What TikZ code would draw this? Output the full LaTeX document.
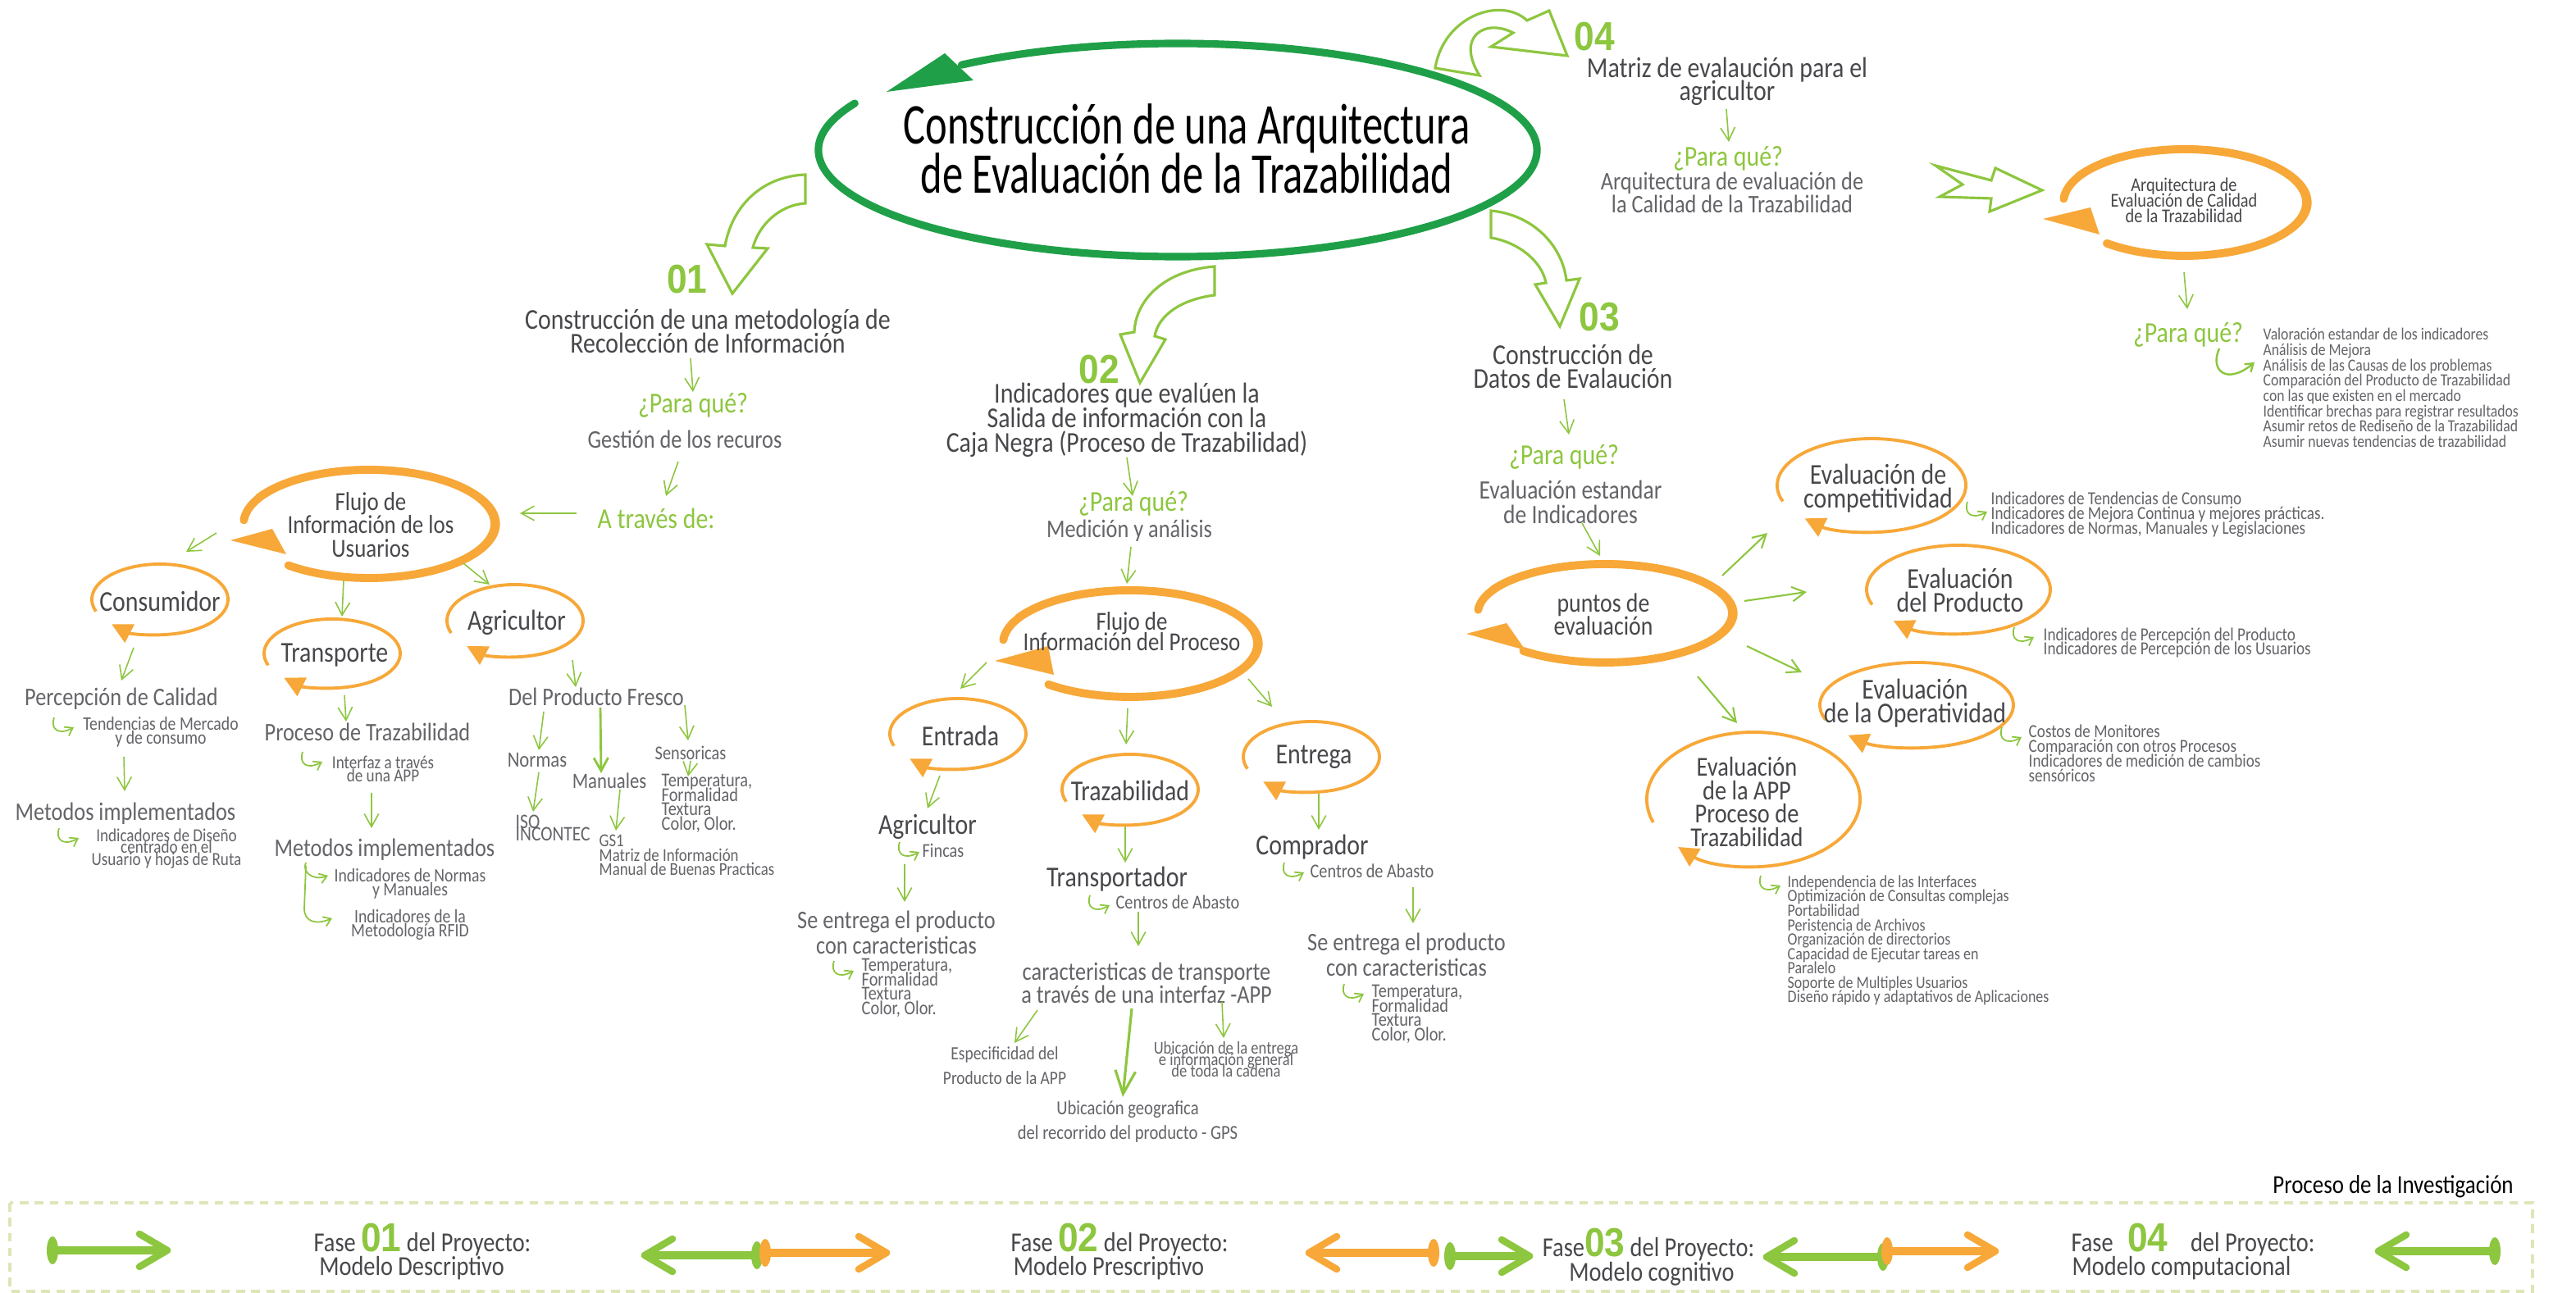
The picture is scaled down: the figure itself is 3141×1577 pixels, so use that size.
\documentclass[tikz,border=0pt]{standalone}
\usepackage{fontspec}
\setmainfont{Carlito}[FakeStretch=0.85]
\newfontfamily\titlefont{Carlito}[FakeStretch=0.72]
\newfontfamily\numfont{Liberation Sans}[FakeStretch=0.9]
\usetikzlibrary{arrows.meta,calc}
\definecolor{lgreen}{RGB}{141,198,63}
\definecolor{tgreen}{RGB}{31,160,72}
\definecolor{orng}{RGB}{247,168,56}
\definecolor{dgray}{RGB}{72,72,76}
\definecolor{mgray}{RGB}{100,100,105}
\definecolor{barcol}{RGB}{222,230,185}
\tikzset{
 txt/.style={inner sep=0pt, align=center},
 ttl/.style={txt, font=\titlefont\fontsize{20}{17}\selectfont, text=black},
 hd/.style={txt, font=\fontsize{10}{8}\selectfont, text=dgray},
 pq/.style={txt, font=\fontsize{10}{8}\selectfont, text=lgreen},
 md/.style={txt, font=\fontsize{8.8}{8}\selectfont, text=mgray},
 cl/.style={txt, font=\fontsize{10}{8.3}\selectfont, text=dgray},
 sm/.style={txt, font=\fontsize{6.6}{4.8}\selectfont, text=mgray},
 ls/.style={inner sep=0pt, align=left, anchor=west, font=\fontsize{6.4}{5.1}\selectfont, text=mgray},
 num/.style={inner sep=0pt, font=\numfont\bfseries\fontsize{14}{14}\selectfont, text=lgreen},
 ga/.style={draw=lgreen, line width=0.45pt, -{Straight Barb[length=4.5pt,width=5pt]}},
 circst/.style={draw=orng, line width=1.1pt, -{Triangle[length=7pt,width=7pt]}},
 loopst/.style={draw=orng, line width=2.8pt, line cap=round},
 loopthin/.style={draw=orng, line width=0.9pt, line cap=round},
 hollow/.style={draw=lgreen, line width=0.9pt, fill=white, line join=miter},
 hk/.style={draw=lgreen, line width=0.5pt, -{Straight Barb[length=2.5pt,width=3.5pt]}},
 hook/.pic={\draw[hk] (0,0) .. controls (-5,-15) and (6,-22) .. (24,-12);},
 fase/.style={inner sep=0pt, font=\fontsize{9.5}{9.5}\selectfont, text=dgray},
}
\newcommand\smloop[3]{\draw[circst] (#1) ++(200:{#2} and {#3}) arc[start angle=200, end angle=-135, x radius=#2, y radius=#3];}
\newcommand\bgloop[3]{%
 \pgfmathsetmacro\rxb{#2+5}\pgfmathsetmacro\ryb{#3+3}%
 \draw[loopst] (#1) ++(176:{#2} and {#3}) arc[start angle=176, end angle=-130, x radius=#2, y radius=#3];
 \draw[loopthin] (#1) ++(150:{\rxb} and {\ryb}) arc[start angle=150, end angle=-70, x radius=\rxb, y radius=\ryb];}
\newcommand\fnum[1]{{\numfont\bfseries\fontsize{14}{14}\selectfont\textcolor{lgreen}{#1}}}
\newcommand\farrow[4]{%
 \pgfmathsetmacro\fdir{(#2>#1)?1:-1}%
 \pgfmathsetmacro\fhx{#2-\fdir*34}%
 \pgfmathsetmacro\fyu{-#3+20}%
 \pgfmathsetmacro\fyd{-#3-20}%
 \draw[#4, line width=2.8pt] (#1,-#3) -- (#2,-#3);
 \fill[#4] (#1,-#3) ellipse [x radius=7, y radius=17];
 \draw[#4, line width=2.4pt, line cap=round, line join=round] (\fhx,\fyu) -- (#2,-#3) -- (\fhx,\fyd);}
\begin{document}
\lineskiplimit=-\maxdimen
\begin{tikzpicture}[x=0.01cm,y=0.01cm]
\fill[white] (0,0) rectangle (3141,-1577);
\useasboundingbox (0,0) rectangle (3141,-1577);

% ===== title =====
\coordinate (tc) at (1436,-183);
\draw[tgreen, line width=2.6pt, line cap=round] (tc) ++(154:438 and 130) arc[start angle=154, end angle=487, x radius=438, y radius=130];
\fill[tgreen] (1081,-112) -- (1152,-65) -- (1187,-98) -- cycle;
\node[ttl] (title) at (1447,-181) {Construcción de una Arquitectura\\de Evaluación de la Trazabilidad};

% ===== 04 =====
\draw[hollow] (1750,-83) .. controls (1760,-20) and (1830,5) .. (1862,-25) -- (1889,-13) -- (1911,-68) -- (1818,-57) -- (1845,-40) .. controls (1810,-22) and (1775,-45) .. (1804,-92) -- cycle;
\node[num] (n4) at (1944,-45) {04};
\node[hd] (t4) at (2106,-99) {Matriz de evalaución para el\\agricultor};
\draw[ga] (2105,-133) -- (2108,-173);
\node[pq] (p4) at (2107,-193) {¿Para qué?};
\node[md] (a4) at (2112,-235) {Arquitectura de evaluación de\\la Calidad de la Trazabilidad};

% ===== right panel =====
\draw[hollow] (2360,-202) -- (2428,-220) -- (2433,-205) -- (2490,-232) -- (2426,-258) -- (2428,-242) -- (2365,-240) -- (2393,-225) -- cycle;
\coordinate (c5) at (2664,-247);
\bgloop{c5}{148}{65}
\fill[orng] (2491,-267) -- (2549,-253) -- (2560,-286) -- cycle;
\node[txt, font=\fontsize{6.8}{5.4}\selectfont, text=dgray] (aq) at (2663,-244) {Arquitectura de\\Evaluación de Calidad\\de la Trazabilidad};
\draw[ga] (2663,-332) -- (2667,-377);
\node[pq] (p5) at (2668,-408) {¿Para qué?};
\draw[hk, line width=0.7pt] (2706,-425) .. controls (2694,-452) and (2715,-470) .. (2749,-442);
\node[ls, font=\fontsize{5.9}{5.3}\selectfont] (l5) at (2759,-473) {Valoración estandar de los indicadores\\Análisis de Mejora\\Análisis de las Causas de los problemas\\Comparación del Producto de Trazabilidad\\con las que existen en el mercado\\Identificar brechas para registrar resultados\\Asumir retos de Rediseño de la Trazabilidad\\Asumir nuevas tendencias de trazabilidad};

% ===== 01 =====
\draw[hollow] (982,-213) .. controls (930,-215) and (893,-250) .. (884,-300) -- (862,-298) -- (893,-358) -- (936,-303) -- (918,-302) .. controls (925,-275) and (950,-250) .. (982,-248) -- cycle;
\node[num] (n1) at (838,-341) {01};
\node[hd] (t1) at (863,-404) {Construcción de una metodología de\\Recolección de Información};
\draw[ga] (842,-437) -- (845,-478);
\node[pq] (p1) at (845,-494) {¿Para qué?};
\node[md] (g1) at (835,-536) {Gestión de los recuros};
\draw[ga] (827,-563) -- (812,-605);
\node[pq] (at1) at (800,-632) {A través de:};
\draw[ga] (703,-626) -- (634,-626);
\coordinate (cf1) at (450,-639);
\bgloop{cf1}{153}{66}
\fill[orng] (281,-659) -- (332,-645) -- (349,-676) -- cycle;
\node[txt, font=\fontsize{9}{8.2}\selectfont, text=dgray] (fu) at (452,-640) {Flujo de\\Información de los\\Usuarios};
\draw[ga] (264,-650) -- (227,-673);
\draw[ga] (419,-708) -- (417,-752);
\draw[ga] (565,-687) -- (597,-713);
\coordinate (cc) at (195,-731); \smloop{cc}{83}{43}
\node[cl] (cons) at (195,-733) {Consumidor};
\coordinate (ct) at (405,-797); \smloop{ct}{83}{42}
\node[cl] (trans) at (408,-799) {Transporte};
\coordinate (ca) at (628,-757); \smloop{ca}{83}{44}
\node[cl] (agr) at (630,-759) {Agricultor};

\draw[ga] (163,-790) -- (148,-830);
\node[md] (perc) at (148,-852) {Percepción de Calidad};
\pic at (66,-875) {hook};
\node[sm] (tend) at (196,-893) {Tendencias de Mercado\\y de consumo};
\draw[ga] (151,-923) -- (152,-965);
\node[md] (met1) at (153,-992) {Metodos implementados};
\pic at (72,-1010) {hook};
\node[sm, font=\fontsize{6.4}{4.2}\selectfont] (ind1) at (203,-1035) {Indicadores de Diseño\\centrado en el\\Usuario y hojas de Ruta};

\draw[ga] (420,-848) -- (422,-880);
\node[md] (proc1) at (448,-893) {Proceso de Trazabilidad};
\pic at (369,-917) {hook};
\node[sm, font=\fontsize{6.4}{4.5}\selectfont] (intf) at (467,-938) {Interfaz a través\\de una APP};
\draw[ga] (453,-967) -- (453,-1010);
\node[md] (met2) at (469,-1036) {Metodos implementados};
\draw[hk] (373,-1052) .. controls (368,-1062) and (380,-1075) .. (400,-1068);
\draw[hk] (373,-1056) -- (371,-1108) .. controls (371,-1125) and (386,-1128) .. (405,-1120);
\node[sm] (inn) at (500,-1078) {Indicadores de Normas\\y Manuales};
\node[sm] (inr) at (500,-1128) {Indicadores de la\\Metodología RFID};

\draw[ga] (698,-805) -- (702,-838);
\node[md] (dpf) at (727,-850) {Del Producto Fresco};
\draw[ga] (663,-868) -- (657,-915);
\draw[ga, line width=0.8pt] (732,-863) -- (733,-943);
\draw[ga] (835,-860) -- (839,-903);
\node[sm, font=\fontsize{7.6}{6}\selectfont] (norm) at (655,-927) {Normas};
\node[sm, font=\fontsize{7.6}{6}\selectfont] (manu) at (743,-952) {Manuales};
\node[sm, font=\fontsize{6.8}{6}\selectfont] (sens) at (842,-918) {Sensoricas};
\draw[ga] (657,-942) -- (650,-990);
\node[ls, font=\fontsize{7.2}{4.3}\selectfont] (iso) at (628,-1010) {ISO\\INCONTEC};
\draw[ga] (756,-963) -- (751,-1013);
\node[ls, font=\fontsize{6.3}{5}\selectfont] (gs1) at (730,-1043) {GS1\\Matriz de Información\\Manual de Buenas Practicas};
\draw[ga] (842,-928) -- (839,-947);
\node[ls, font=\fontsize{6.8}{5}\selectfont] (temp1) at (806,-980) {Temperatura,\\Formalidad\\Textura\\Color, Olor.};

% ===== 02 =====
\draw[hollow] (1481,-325) .. controls (1420,-330) and (1385,-365) .. (1383,-405) -- (1366,-408) -- (1390,-467) -- (1421,-414) -- (1408,-410) .. controls (1412,-385) and (1440,-365) .. (1481,-360) -- cycle;
\node[num] (n2) at (1340,-451) {02};
\node[hd, font=\fontsize{10}{8.5}\selectfont] (t2) at (1374,-512) {Indicadores que evalúen la\\Salida de información con la\\Caja Negra (Proceso de Trazabilidad)};
\draw[ga] (1374,-558) -- (1381,-605);
\node[pq] (p2) at (1382,-614) {¿Para qué?};
\node[md] (med2) at (1377,-647) {Medición y análisis};
\draw[ga] (1379,-667) -- (1374,-712);
\coordinate (cf2) at (1378,-785);
\bgloop{cf2}{155}{65}
\fill[orng] (1213,-806) -- (1278,-788) -- (1285,-823) -- cycle;
\node[txt, font=\fontsize{9}{7.1}\selectfont, text=dgray] (fp) at (1380,-770) {Flujo de\\Información del Proceso};
\draw[ga] (1203,-808) -- (1171,-840);
\draw[ga] (1375,-864) -- (1373,-908);
\draw[ga] (1522,-828) -- (1551,-862);
\coordinate (ce) at (1168,-895); \smloop{ce}{83}{43}
\node[cl] (entr) at (1171,-897) {Entrada};
\coordinate (ctz) at (1378,-963); \smloop{ctz}{83}{43}
\node[cl] (traz) at (1378,-964) {Trazabilidad};
\coordinate (cg) at (1599,-923); \smloop{cg}{83}{43}
\node[cl] (entg) at (1602,-923) {Entrega};

\draw[ga] (1146,-946) -- (1131,-986);
\node[cl] (agr2) at (1131,-1008) {Agricultor};
\pic at (1097,-1027) {hook};
\node[sm, font=\fontsize{6.8}{5}\selectfont] (finc) at (1150,-1037) {Fincas};
\draw[ga] (1103,-1054) -- (1103,-1100);
\node[md, font=\fontsize{8.8}{8.8}\selectfont] (se1) at (1093,-1137) {Se entrega el producto\\con caracteristicas};
\pic at (1017,-1172) {hook};
\node[ls, font=\fontsize{6.8}{5}\selectfont] (temp2) at (1050,-1205) {Temperatura,\\Formalidad\\Textura\\Color, Olor.};

\draw[ga] (1372,-1008) -- (1372,-1052);
\node[cl] (tpd) at (1362,-1072) {Transportador};
\pic at (1329,-1092) {hook};
\node[sm, font=\fontsize{6.8}{5}\selectfont] (cab1) at (1436,-1100) {Centros de Abasto};
\draw[ga] (1388,-1112) -- (1388,-1154);
\node[md] (ct2) at (1398,-1199) {caracteristicas de transporte\\a través de una interfaz -APP};
\draw[ga] (1265,-1232) -- (1237,-1272);
\draw[ga, line width=0.9pt, -{Straight Barb[length=8pt,width=7pt]}] (1380,-1230) -- (1369,-1338);
\draw[ga] (1490,-1222) -- (1492,-1266);
\node[sm, font=\fontsize{6.5}{8.5}\selectfont] (esp) at (1225,-1300) {Especificidad del\\Producto de la APP};
\node[sm, font=\fontsize{6.2}{4.1}\selectfont] (ubi) at (1495,-1292) {Ubicación de la entrega\\e información general\\de toda la cadena};
\node[sm, font=\fontsize{6.9}{8.5}\selectfont] (gps) at (1375,-1368) {Ubicación geografica\\del recorrido del producto - GPS};

\draw[ga] (1608,-968) -- (1608,-1012);
\node[cl] (compr) at (1600,-1033) {Comprador};
\pic at (1566,-1052) {hook};
\node[sm, font=\fontsize{6.8}{5}\selectfont] (cab2) at (1673,-1062) {Centros de Abasto};
\draw[ga] (1723,-1082) -- (1723,-1126);
\node[md, font=\fontsize{8.8}{8.8}\selectfont] (se2) at (1715,-1164) {Se entrega el producto\\con caracteristicas};
\pic at (1639,-1200) {hook};
\node[ls, font=\fontsize{6.8}{5}\selectfont] (temp3) at (1672,-1237) {Temperatura,\\Formalidad\\Textura\\Color, Olor.};

% ===== 03 =====
\draw[hollow] (1818,-257) .. controls (1870,-262) and (1905,-300) .. (1910,-342) -- (1926,-340) -- (1902,-398) -- (1872,-347) -- (1885,-345) .. controls (1880,-318) and (1850,-295) .. (1818,-290) -- cycle;
\node[num] (n3) at (1950,-387) {03};
\node[hd] (t3) at (1918,-447) {Construcción de\\Datos de Evalaución};
\draw[ga] (1907,-487) -- (1913,-530);
\node[pq] (p3) at (1907,-557) {¿Para qué?};
\node[md, font=\fontsize{9.2}{8.5}\selectfont] (es3) at (1915,-612) {Evaluación estandar\\de Indicadores};
\draw[ga] (1929,-638) -- (1951,-678);
\coordinate (cp3) at (1957,-748);
\bgloop{cp3}{155}{60}
\fill[orng] (1788,-773) -- (1837,-760) -- (1860,-793) -- cycle;
\node[cl, font=\fontsize{9.3}{8}\selectfont] (pts) at (1955,-749) {puntos de\\evaluación};
\draw[ga, line width=0.6pt] (2100,-702) -- (2155,-650);
\draw[ga, line width=0.6pt] (2127,-733) -- (2203,-722);
\draw[ga, line width=0.6pt] (2130,-788) -- (2197,-820);
\draw[ga, line width=0.6pt] (2070,-825) -- (2118,-882);

\coordinate (ec1) at (2282,-592); \smloop{ec1}{115}{57}
\node[cl] (ev1) at (2290,-596) {Evaluación de\\competitividad};
\pic at (2399,-612) {hook};
\node[ls] (l1) at (2427,-628) {Indicadores de Tendencias de Consumo\\Indicadores de Mejora Continua y mejores prácticas.\\Indicadores de Normas, Manuales y Legislaciones};
\coordinate (ec2) at (2388,-719); \smloop{ec2}{112}{54}
\node[cl] (ev2) at (2390,-720) {Evaluación\\del Producto};
\pic at (2456,-765) {hook};
\node[ls] (l2) at (2491,-784) {Indicadores de Percepción del Producto\\Indicadores de Percepción de los Usuarios};
\coordinate (ec3) at (2337,-860); \smloop{ec3}{118}{52}
\node[cl] (ev3) at (2335,-858) {Evaluación\\de la Operatividad};
\pic at (2441,-887) {hook};
\node[ls] (l3) at (2473,-919) {Costos de Monitores\\Comparación con otros Procesos\\Indicadores de medición de cambios\\sensóricos};
\coordinate (ec4) at (2138,-975); \smloop{ec4}{130}{82}
\node[cl, font=\fontsize{9.5}{8.2}\selectfont] (ev4) at (2130,-978) {Evaluación\\de la APP\\Proceso de\\Trazabilidad};
\pic at (2147,-1068) {hook};
\node[ls, font=\fontsize{6}{5}\selectfont] (l4) at (2179,-1147) {Independencia de las Interfaces\\Optimización de Consultas complejas\\Portabilidad\\Peristencia de Archivos\\Organización de directorios\\Capacidad de Ejecutar tareas en\\Paralelo\\Soporte de Multiples Usuarios\\Diseño rápido y adaptativos de Aplicaciones};

% ===== bottom bar =====
\node[inner sep=0pt, font=\fontsize{9}{9}\selectfont, text=black] (procinv) at (2918,-1447) {Proceso de la Investigación};
\draw[barcol, line width=1pt, dash pattern=on 3pt off 2.2pt] (12,-1467) rectangle (3088,-1575);
\node[fase, anchor=base] (f1) at (515,-1527) {Fase \fnum{01} del Proyecto:};
\node[fase, anchor=base] (mo1) at (502,-1556) {Modelo Descriptivo};
\node[fase, anchor=base] (f2) at (1365,-1527) {Fase \fnum{02} del Proyecto:};
\node[fase, anchor=base] (mo2) at (1352,-1556) {Modelo Prescriptivo};
\node[fase, anchor=base] (f3) at (2010,-1533) {Fase\fnum{03} del Proyecto:};
\node[fase, anchor=base] (mo3) at (2014,-1563) {Modelo cognitivo};
\node[fase, anchor=base] (f4) at (2674,-1527) {Fase\hspace{5pt}\fnum{04}\hspace{6pt} del Proyecto:};
\node[fase, anchor=base] (mo4) at (2660,-1556) {Modelo computacional};
\farrow{64}{204}{1525}{lgreen}
\farrow{923}{786}{1531}{lgreen}
\farrow{933}{1081}{1528}{orng}
\farrow{1748}{1596}{1528}{orng}
\farrow{1768}{1865}{1532}{lgreen}
\farrow{2296}{2154}{1533}{lgreen}
\farrow{2301}{2433}{1526}{orng}
\farrow{3042}{2900}{1526}{lgreen}
\end{tikzpicture}
\end{document}
